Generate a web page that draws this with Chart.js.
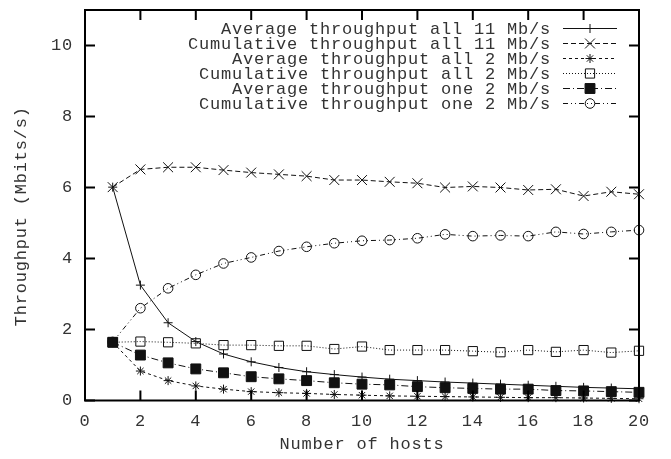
<!DOCTYPE html>
<html>
<head>
<meta charset="utf-8">
<script src="https://cdn.jsdelivr.net/npm/chart.js@4.4.1/dist/chart.umd.min.js"></script>
<style>
    html, body { margin: 0; padding: 0; background: #fff; }
    #wrap { width: 671px; height: 459px; }
</style>
</head>
<body>
<div id="wrap"><canvas id="chart" width="671" height="459"></canvas></div>
<script>
const hosts = [1, 2, 3, 4, 5, 6, 7, 8, 9, 10, 11, 12, 13, 14, 15, 16, 17, 18, 19, 20];
const xTicks = [0, 2, 4, 6, 8, 10, 12, 14, 16, 18, 20];
const yTicks = [0, 2, 4, 6, 8, 10];

const avgAll11 = [6.01, 3.25, 2.19, 1.66, 1.31, 1.09, 0.93, 0.81, 0.73, 0.66, 0.60, 0.56, 0.52, 0.49, 0.46, 0.43, 0.40, 0.37, 0.35, 0.33];
const cumAll11 = [6.01, 6.51, 6.57, 6.57, 6.49, 6.42, 6.37, 6.32, 6.21, 6.21, 6.16, 6.12, 6.00, 6.03, 6.00, 5.93, 5.95, 5.76, 5.88, 5.81];
const avgAll2 = [1.64, 0.83, 0.56, 0.41, 0.32, 0.25, 0.22, 0.20, 0.17, 0.15, 0.13, 0.12, 0.11, 0.10, 0.09, 0.08, 0.08, 0.07, 0.06, 0.05];
const cumAll2 = [1.64, 1.66, 1.64, 1.61, 1.56, 1.56, 1.54, 1.54, 1.45, 1.52, 1.42, 1.42, 1.42, 1.39, 1.36, 1.42, 1.37, 1.42, 1.35, 1.40];
const avgOne2 = [1.64, 1.28, 1.06, 0.89, 0.78, 0.67, 0.61, 0.56, 0.50, 0.46, 0.44, 0.39, 0.36, 0.34, 0.32, 0.32, 0.28, 0.27, 0.25, 0.23];
const cumOne2 = [1.65, 2.60, 3.16, 3.54, 3.86, 4.03, 4.21, 4.33, 4.43, 4.50, 4.52, 4.57, 4.68, 4.63, 4.65, 4.63, 4.75, 4.69, 4.75, 4.80];

const labels = [
    'Average throughput all 11 Mb/s',
    'Cumulative throughput all 11 Mb/s',
    'Average throughput all 2 Mb/s',
    'Cumulative throughput all 2 Mb/s',
    'Average throughput one 2 Mb/s',
    'Cumulative throughput one 2 Mb/s'
];

const ink = '#111';
const textInk = '#333';

function series(values) {
    return hosts.map((h, i) => ({x: h, y: values[i]}));
}

function makeSet(label, values, dash, style, radius, fill) {
    return {
        label: label,
        data: series(values),
        borderColor: ink,
        borderWidth: 1,
        borderDash: dash,
        pointStyle: style,
        pointRadius: radius,
        pointBorderWidth: 1,
        pointBorderColor: ink,
        pointBackgroundColor: fill,
        fill: false,
        tension: 0,
        clip: false
    };
}

// frame and inward ticks on all four sides, like gnuplot
const framePlugin = {
    id: 'frame',
    beforeDraw(chart) {
        chart.ctx.letterSpacing = '0.8px';
    },
    afterDatasetsDraw(chart) {
        const {ctx, chartArea: a, scales: {x, y}} = chart;
        ctx.save();
        ctx.strokeStyle = '#000';
        ctx.lineWidth = 2;
        ctx.setLineDash([]);
        ctx.strokeRect(a.left, a.top, a.right - a.left, a.bottom - a.top);
        const len = 10;
        ctx.beginPath();
        xTicks.forEach(v => {
            const px = x.getPixelForValue(v);
            ctx.moveTo(px, a.bottom);
            ctx.lineTo(px, a.bottom - len);
            ctx.moveTo(px, a.top);
            ctx.lineTo(px, a.top + len);
        });
        yTicks.forEach(v => {
            const py = y.getPixelForValue(v);
            ctx.moveTo(a.left, py);
            ctx.lineTo(a.left + len, py);
            ctx.moveTo(a.right, py);
            ctx.lineTo(a.right - len, py);
        });
        ctx.stroke();
        ctx.restore();
    },
    afterDraw(chart) {
        const ctx = chart.ctx;
        ctx.save();
        ctx.font = "17px 'Liberation Mono', monospace";
        ctx.letterSpacing = '0.8px';
        ctx.textAlign = 'right';
        ctx.textBaseline = 'middle';
        chart.data.datasets.forEach((ds, i) => {
            const yy = 28.5 + 15 * i;
            ctx.fillStyle = textInk;
            ctx.fillText(ds.label, 551, yy + 1);
            ctx.strokeStyle = ink;
            ctx.lineWidth = 1;
            ctx.setLineDash(ds.borderDash);
            ctx.beginPath();
            ctx.moveTo(563, yy);
            ctx.lineTo(617, yy);
            ctx.stroke();
            ctx.setLineDash([]);
            ctx.fillStyle = ds.pointBackgroundColor;
            Chart.helpers.drawPoint(ctx, {
                pointStyle: ds.pointStyle,
                radius: ds.pointRadius,
                rotation: 0,
                borderWidth: 1
            }, 590, yy);
        });
        ctx.restore();
    }
};

Chart.defaults.font.family = "'Liberation Mono', monospace";
Chart.defaults.font.size = 17;
Chart.defaults.color = textInk;

const ctx = document.getElementById('chart').getContext('2d');
const chart = new Chart(ctx, {
    type: 'line',
    data: {
        datasets: [
            makeSet(labels[0], avgAll11, [], 'cross', 4.5, 'transparent'),
            makeSet(labels[1], cumAll11, [5, 3], 'crossRot', 7, 'transparent'),
            makeSet(labels[2], avgAll2, [3, 3], 'star', 4.5, 'transparent'),
            makeSet(labels[3], cumAll2, [1, 2], 'rect', 6.5, 'transparent'),
            makeSet(labels[4], avgOne2, [7, 3, 1, 3], 'rect', 7, ink),
            makeSet(labels[5], cumOne2, [5, 3, 1, 3, 1, 3], 'circle', 4.8, 'transparent')
        ]
    },
    options: {
        responsive: false,
        devicePixelRatio: 1,
        animation: false,
        layout: {padding: {left: 0, right: 32, top: 10, bottom: 0}},
        plugins: {
            legend: {display: false},
            tooltip: {enabled: false}
        },
        scales: {
            x: {
                type: 'linear',
                min: 0,
                max: 20,
                afterBuildTicks: scale => { scale.ticks = xTicks.map(v => ({value: v})); },
                afterFit: scale => {
                    scale.height = 58.5;
                    scale.paddingLeft = 0;
                    scale.paddingRight = 0;
                },
                grid: {display: false, drawTicks: false},
                border: {display: false},
                ticks: {padding: 11, maxRotation: 0},
                title: {display: true, text: 'Number of hosts', padding: {top: 0, bottom: 4.5}}
            },
            y: {
                type: 'linear',
                min: 0,
                max: 11,
                afterBuildTicks: scale => { scale.ticks = yTicks.map(v => ({value: v})); },
                afterFit: scale => {
                    scale.width = 85;
                    scale.paddingTop = 0;
                    scale.paddingBottom = 0;
                },
                grid: {display: false, drawTicks: false},
                border: {display: false},
                ticks: {padding: 12},
                title: {display: true, text: 'Throughput (Mbits/s)  ', padding: {top: 11, bottom: 0}}
            }
        }
    },
    plugins: [framePlugin]
});
</script>
</body>
</html>
